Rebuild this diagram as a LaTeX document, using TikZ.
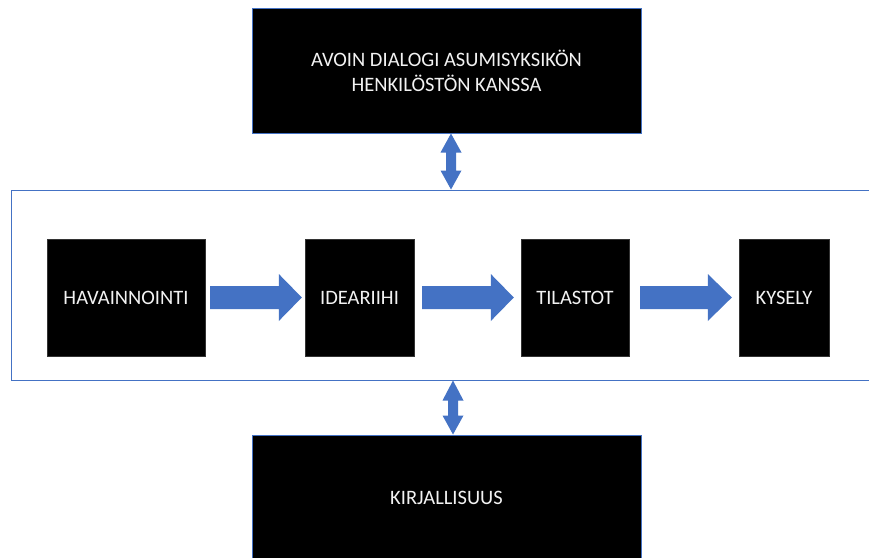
\documentclass[tikz,border=0pt]{standalone}
\usepackage{fontspec}
\setmainfont{Carlito}
\usetikzlibrary{calc}
\definecolor{officeblue}{HTML}{4472C4}
\definecolor{txtwhite}{HTML}{F2F2F2}
\tikzset{
  bigbox/.style={fill=black, draw=officeblue, line width=1pt, text=txtwhite,
    align=center, inner sep=0pt, font=\fontsize{20.5}{25}\selectfont},
  stepbox/.style={fill=black, draw=black!80, line width=0.4pt, text=txtwhite,
    inner sep=0pt, minimum height=117pt, font=\fontsize{20.5}{25}\selectfont},
  framebox/.style={draw=officeblue, line width=1pt, inner sep=0pt},
  arrowfill/.style={fill=officeblue}
}
\begin{document}
\begin{tikzpicture}[x=1pt, y=-1pt]
\useasboundingbox (0,0) rectangle (869,557);
\fill[white] (0,0) rectangle (869,557);

% container frame (runs past the right edge)
\node[framebox, minimum width=880pt, minimum height=190pt] (frame) at (451,285) {};

% top and bottom boxes
\node[bigbox, minimum width=389pt, minimum height=125pt] (top) at (446.5,70.5)
  {AVOIN DIALOGI ASUMISYKSIKÖN\\HENKILÖSTÖN KANSSA};
\node[bigbox, minimum width=389pt, minimum height=126pt] (bottom) at (446.5,498)
  {KIRJALLISUUS};

% process steps
\node[stepbox, minimum width=158pt] (b1) at (126,297.5) {HAVAINNOINTI};
\node[stepbox, minimum width=109pt] (b2) at (359.5,297.5) {IDEARIIHI};
\node[stepbox, minimum width=108pt] (b3) at (575,297.5) {TILASTOT};
\node[stepbox, minimum width=90pt] (b4) at (784,297.5) {KYSELY};

% block arrows between the steps
\fill[arrowfill] let \p1=($(b1.east)+(5,0)$), \p2=($(b2.west)+(-3,0)$) in
  (\x1,\y2+11.5pt) -- (\x2-23pt,\y2+11.5pt) -- (\x2-23pt,\y2+23.5pt) -- (\x2,\y2)
  -- (\x2-23pt,\y2-23.5pt) -- (\x2-23pt,\y2-11.5pt) -- (\x1,\y2-11.5pt) -- cycle;
\fill[arrowfill] let \p1=($(b2.east)+(8,0)$), \p2=($(b3.west)+(-7,0)$) in
  (\x1,\y2+11.5pt) -- (\x2-23pt,\y2+11.5pt) -- (\x2-23pt,\y2+23.5pt) -- (\x2,\y2)
  -- (\x2-23pt,\y2-23.5pt) -- (\x2-23pt,\y2-11.5pt) -- (\x1,\y2-11.5pt) -- cycle;
\fill[arrowfill] let \p1=($(b3.east)+(11,0)$), \p2=($(b4.west)+(-7,0)$) in
  (\x1,\y2+11.5pt) -- (\x2-24pt,\y2+11.5pt) -- (\x2-24pt,\y2+23.5pt) -- (\x2,\y2)
  -- (\x2-24pt,\y2-23.5pt) -- (\x2-24pt,\y2-11.5pt) -- (\x1,\y2-11.5pt) -- cycle;

% vertical double arrows
\fill[arrowfill] let \p1=($(top.south)+(4.5,0)$), \p2=(frame.north) in
  (\x1,\y1) -- (\x1+10.5pt,\y1-19pt) -- (\x1+5pt,\y1-19pt) -- (\x1+5pt,\y2+19pt)
  -- (\x1+10.5pt,\y2+19pt) -- (\x1,\y2) -- (\x1-10.5pt,\y2+19pt) -- (\x1-5pt,\y2+19pt)
  -- (\x1-5pt,\y1-19pt) -- (\x1-10.5pt,\y1-19pt) -- cycle;
\fill[arrowfill] let \p1=($(frame.south)+(2,0)$), \p2=(bottom.north) in
  (\x1,\y1) -- (\x1+10.5pt,\y1-20pt) -- (\x1+5pt,\y1-20pt) -- (\x1+5pt,\y2+19pt)
  -- (\x1+10.5pt,\y2+19pt) -- (\x1,\y2) -- (\x1-10.5pt,\y2+19pt) -- (\x1-5pt,\y2+19pt)
  -- (\x1-5pt,\y1-20pt) -- (\x1-10.5pt,\y1-20pt) -- cycle;
\end{tikzpicture}
\end{document}
